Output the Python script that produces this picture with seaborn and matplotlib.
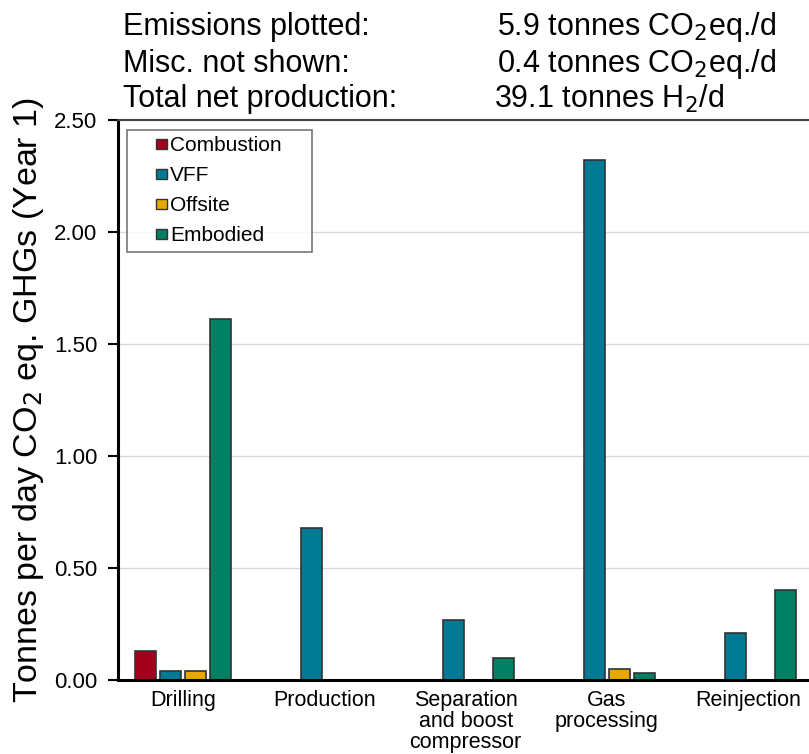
import pandas as pd
import matplotlib.pyplot as plt
import seaborn as sns
from matplotlib.patches import Rectangle
from matplotlib.legend_handler import HandlerPatch

# Data
stages = ["Drilling", "Production", "Separation\nand boost\ncompressor", "Gas\nprocessing", "Reinjection"]
sources = ["Combustion", "VFF", "Offsite", "Embodied"]
combustion = [0.13, 0.00, 0.00, 0.00, 0.00]
vff = [0.04, 0.68, 0.27, 2.32, 0.21]
offsite = [0.04, 0.00, 0.00, 0.05, 0.00]
embodied = [1.61, 0.00, 0.10, 0.03, 0.40]
colors = ["#A3001B", "#007A94", "#E8A800", "#008062"]

rows = []
for src, vals in zip(sources, [combustion, vff, offsite, embodied]):
    for st, v in zip(stages, vals):
        rows.append({"Stage": st, "Source": src, "Value": v})
df = pd.DataFrame(rows)

sns.set_theme(style="white", rc={"text.color": "black", "axes.labelcolor": "black",
                                 "xtick.color": "black", "ytick.color": "black"})
plt.rcParams["font.family"] = ["Liberation Sans", "DejaVu Sans"]

fig = plt.figure(figsize=(8.09, 7.54), dpi=100)
ax = fig.add_axes([0.146, 0.098, 0.854, 0.743])

sns.barplot(data=df, x="Stage", y="Value", hue="Source", palette=colors, saturation=1,
            width=0.71, gap=0.17, edgecolor="#333333", linewidth=1.2, ax=ax)

ax.set_ylim(0, 2.5)
ax.set_xlim(-0.46, 4.43)
ticks = [0, 0.5, 1.0, 1.5, 2.0, 2.5]
ax.set_yticks(ticks)
ax.set_yticklabels([f"{v:.2f}" for v in ticks], fontsize=16)
ax.set_xticks(range(len(stages)))
ax.set_xticklabels(stages, fontsize=15.5, linespacing=1.0)
ax.tick_params(axis="x", length=0, pad=7)
ax.tick_params(axis="y", direction="out", length=7, width=1.5, pad=8, left=True)
ax.yaxis.grid(True, color="#d9d9d9", linewidth=1)
ax.set_axisbelow(True)
ax.set_xlabel("")
ax.set_ylabel("Tonnes per day CO$_2$ eq. GHGs (Year 1)", fontsize=24.5, labelpad=6)

for s in ["left", "bottom"]:
    ax.spines[s].set_color("black")
    ax.spines[s].set_linewidth(2.2)
ax.spines["top"].set_color("#444444")
ax.spines["top"].set_linewidth(1.5)
ax.spines["right"].set_visible(False)


# small square legend key sitting at the right end of the handle box
def small_square(legend, orig_handle, xdescent, ydescent, width, height, fontsize):
    s = 0.5 * fontsize
    return Rectangle((-xdescent + width - s, -ydescent + (height - s) / 2), s, s)


handles = [Rectangle((0, 0), 1, 1, facecolor=c, edgecolor="#333333", linewidth=1)
           for c in colors]
leg = ax.legend(handles, sources, loc="upper left", bbox_to_anchor=(0.013, 0.5, 0.268, 0.482),
                mode="expand", fontsize=15, frameon=True, fancybox=False, edgecolor="#555555",
                handlelength=1.6, handleheight=0.7, handletextpad=0.15,
                labelspacing=0.53, borderpad=0.3, borderaxespad=0,
                handler_map={Rectangle: HandlerPatch(patch_func=small_square)})
leg.get_frame().set_linewidth(1.2)

# Header summary
fig.text(0.152, 0.964, "Emissions plotted:", fontsize=22, va="center")
fig.text(0.152, 0.915, "Misc. not shown:", fontsize=22, va="center")
fig.text(0.152, 0.869, "Total net production:", fontsize=22, va="center")
fig.text(0.614, 0.964, "5.9 tonnes CO$_2$eq./d", fontsize=22, va="center")
fig.text(0.614, 0.915, "0.4 tonnes CO$_2$eq./d", fontsize=22, va="center")
fig.text(0.611, 0.869, "39.1 tonnes H$_2$/d", fontsize=22, va="center")

fig.savefig("out.png", dpi=100)
